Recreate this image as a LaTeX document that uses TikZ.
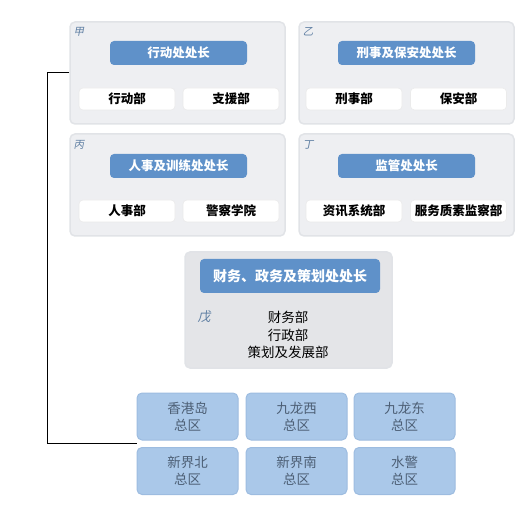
\documentclass[tikz,border=0pt]{standalone}
\usepackage{fontspec}
\setmainfont{Noto Sans CJK SC}
\newfontfamily\corsivo[FakeSlant=0.2]{Noto Sans CJK SC}
\usepackage{xcolor}
\usepackage{tikz}
\usetikzlibrary{positioning, calc}

\definecolor{grigiopann}{HTML}{EEEFF2}
\definecolor{bordopann}{HTML}{E1E3E7}
\definecolor{blucapo}{HTML}{5F91C9}
\definecolor{bluzona}{HTML}{AAC8E9}
\definecolor{bordozona}{HTML}{9DBCE0}
\definecolor{testozona}{HTML}{4D5F75}
\definecolor{sigla}{HTML}{5F7FA3}

\tikzset{
    pannello/.style={draw=bordopann, fill=grigiopann, line width=1.5pt, rounded corners=5pt, inner sep=0pt},
    capo/.style={fill=blucapo, rounded corners=4pt, text=white, inner sep=0pt,
        minimum width=137pt, minimum height=24pt, font=\bfseries\fontsize{12.5}{14}\selectfont},
    reparto/.style={fill=white, draw=white!92!black, line width=0.6pt, rounded corners=4pt, inner sep=0pt,
        minimum width=96pt, minimum height=22pt, font=\bfseries\fontsize{12.5}{14}\selectfont},
    zona/.style={fill=bluzona, draw=bordozona, line width=1pt, rounded corners=5pt, inner sep=0pt,
        minimum width=101pt, minimum height=47pt, align=center, text=testozona,
        font=\fontsize{13.5}{17}\selectfont},
    lettera/.style={text=sigla, font=\corsivo\fontsize{10.5}{11}\selectfont, inner sep=0pt}
}

\begin{document}
\begin{tikzpicture}[x=1pt, y=-1pt]
    \useasboundingbox (0,0) rectangle (531,508);

    % Pannello 甲
    \node[pannello, minimum width=215pt, minimum height=102pt] (pjia) at (177.5,73) {};
    \node[lettera] (ljia) at (79,32) {甲};
    \node[capo] (cjia) at (178.5,53) {行动处处长};
    \node[reparto] (r1) at (127,99) {行动部};
    \node[reparto] (r2) at (231,99) {支援部};

    % Pannello 乙
    \node[pannello, minimum width=215pt, minimum height=102pt] (pyi) at (406.5,73) {};
    \node[lettera] (lyi) at (308,32) {乙};
    \node[capo] (cyi) at (406.5,53) {刑事及保安处处长};
    \node[reparto] (r3) at (354,99) {刑事部};
    \node[reparto] (r4) at (458.5,99) {保安部};

    % Pannello 丙
    \node[pannello, minimum width=215pt, minimum height=102pt] (pbing) at (177.5,185) {};
    \node[lettera] (lbing) at (79,145) {丙};
    \node[capo] (cbing) at (178.5,166) {人事及训练处处长};
    \node[reparto] (r5) at (127,211) {人事部};
    \node[reparto] (r6) at (231,211) {警察学院};

    % Pannello 丁
    \node[pannello, minimum width=215pt, minimum height=102pt] (pding) at (406.5,185) {};
    \node[lettera] (lding) at (308,145) {丁};
    \node[capo] (cding) at (406.5,166) {监管处处长};
    \node[reparto] (r7) at (354,211) {资讯系统部};
    \node[reparto] (r8) at (458.5,211) {服务质素监察部};

    % Pannello 戊
    \node[pannello, fill=grigiopann!96!black, minimum width=207pt, minimum height=116pt] (pwu) at (288.5,310) {};
    \node[capo, minimum width=180pt, minimum height=34pt, font=\bfseries\fontsize{14}{16}\selectfont] (cwu) at (290,276) {财务、政务及策划处处长};
    \node[lettera, font=\corsivo\fontsize{13}{13}\selectfont] (lwu) at (204,317) {戊};
    \node[align=center, inner sep=0pt, font=\fontsize{13.5}{17.5}\selectfont] (rwu) at (288,335) {财务部\\行政部\\策划及发展部};

    % Zone
    \node[zona] (hk) at (187.5,416.5) {香港岛\\总区};
    \node[zona] (kw) at (296.5,416.5) {九龙西\\总区};
    \node[zona] (ke) at (404.5,416.5) {九龙东\\总区};
    \node[zona] (ntn) at (187.5,471) {新界北\\总区};
    \node[zona] (nts) at (296.5,471) {新界南\\总区};
    \node[zona] (mar) at (404.5,471) {水警\\总区};

    % Collegamento
    \coordinate (aggancio) at ($(hk.south west)!0.5!(ntn.north west)$);
    \draw[line width=1pt] (pjia.west) -- ++(-22,0) |- (aggancio);
\end{tikzpicture}
\end{document}
